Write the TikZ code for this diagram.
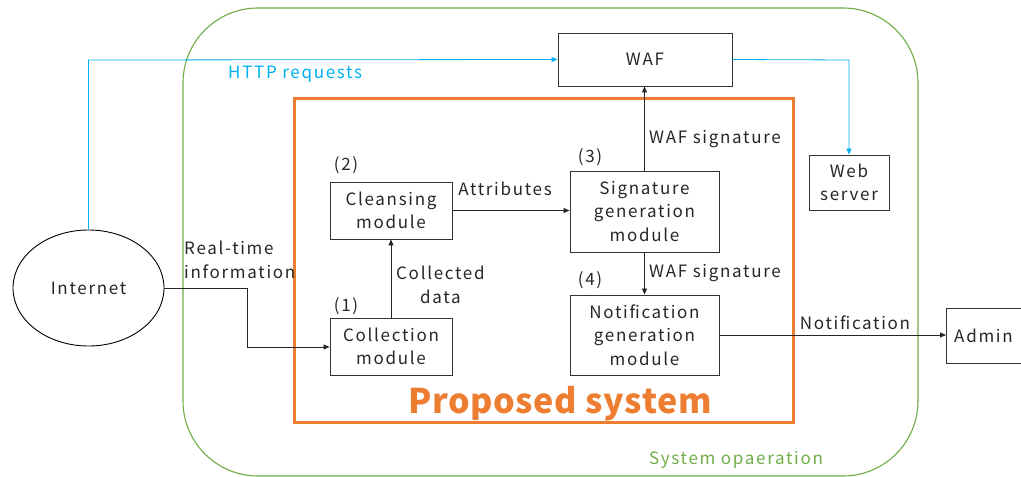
\documentclass[tikz,border=0pt]{standalone}
\usepackage{fontspec}
\setmainfont[LetterSpace=10]{Noto Sans CJK JP}
\newfontfamily\bigfont[LetterSpace=2]{Noto Sans CJK JP}
\usetikzlibrary{arrows.meta,shapes.geometric}
\definecolor{cblue}{HTML}{00B0F0}
\definecolor{corange}{HTML}{ED7D31}
\definecolor{cgreen}{HTML}{70AD47}
\definecolor{ctext}{HTML}{262626}
\begin{document}
\begin{tikzpicture}[x=1pt,y=-1pt,
  font=\fontsize{17}{23.5}\selectfont, text=ctext,
  box/.style={draw=black!80,line width=0.9pt,align=center,inner sep=0pt},
  lab/.style={inner sep=0pt,align=center},
  arr/.style={draw=black!85,line width=0.8pt,-{Triangle[length=6pt,width=5pt]}},
  barr/.style={draw=cblue,line width=0.8pt,-{Triangle[length=6pt,width=5pt]}}]
\useasboundingbox (0,0) rectangle (1021,477);
% system operation
\draw[cgreen,line width=1.1pt,rounded corners=75pt] (183,8) rectangle (918,476);
\node[lab,text=cgreen,anchor=center] (sysop) at (736,460) {System opaeration};
% proposed system
\draw[corange,line width=3pt] (294,98) rectangle (793,422);
\node[lab,text=corange,font=\bigfont\fontsize{34}{38}\selectfont\bfseries] (prop) at (560,404) {Proposed system};
% nodes
\node[box,minimum width=174pt,minimum height=53pt] (waf) at (645,59.5) {WAF};
\node[box,minimum width=80pt,minimum height=55pt] (web) at (849,182.5) {Web\\server};
\node[box,minimum width=80pt,minimum height=55pt,anchor=west] (admin) at (946,335.5) {\hspace*{-6pt}Admin};
\node[draw=black,line width=0.9pt,ellipse,minimum width=151pt,minimum height=116pt,inner sep=0pt] (inet) at (88.5,288) {Internet};
\node[box,minimum width=122pt,minimum height=57pt] (clean) at (391,210.5) {Cleansing\\module};
\node[box,minimum width=122pt,minimum height=57pt] (coll) at (391,346.5) {Collection\\module};
\node[box,minimum width=149pt,minimum height=81pt] (sig) at (644.5,211.5) {Signature\\generation\\module};
\node[box,minimum width=149pt,minimum height=80pt] (noti) at (644.5,335) {Notification\\generation\\module};
% numbers
\node[lab] (n2) at (346,165) {(2)};
\node[lab] (n1) at (346,306) {(1)};
\node[lab] (n3) at (590,157) {(3)};
\node[lab] (n4) at (590,280) {(4)};
% blue http
\coordinate (h1) at (88.5,60);
\coordinate (h2) at (849,60);
\draw[barr] (inet.north) |- (h1) -- (waf.west);
\draw[barr] (waf.east) -- (h2) -- (web.north);
\node[lab,text=cblue,anchor=west] (http) at (228,74) {HTTP requests};
% real-time
\coordinate (r1) at (247,288);
\coordinate (r2) at (247,347);
\draw[arr] (inet.east) -- (r1) -- (r2) -- (coll.west|-r2);
\node[lab,anchor=west,align=left] (rt) at (184,260) {Real-time\\information};
% others
\draw[arr] (coll.north) -- (clean.south);
\node[lab,anchor=west,align=center] (cd) at (396,285) {Collected\\data};
\draw[arr] (clean.east) -- (clean.east-|sig.west);
\node[lab] (attr) at (505,189) {Attributes};
\draw[arr] (sig.north) -- (sig.north|-waf.south);
\node[lab,anchor=west] (ws1) at (649,139) {WAF signature};
\draw[arr] (sig.south) -- (noti.north);
\node[lab,anchor=west] (ws2) at (649,273) {WAF signature};
\draw[arr] (noti.east) -- (admin.west|-noti.east);
\node[lab] (notl) at (855,323) {Notification};
\end{tikzpicture}
\end{document}
